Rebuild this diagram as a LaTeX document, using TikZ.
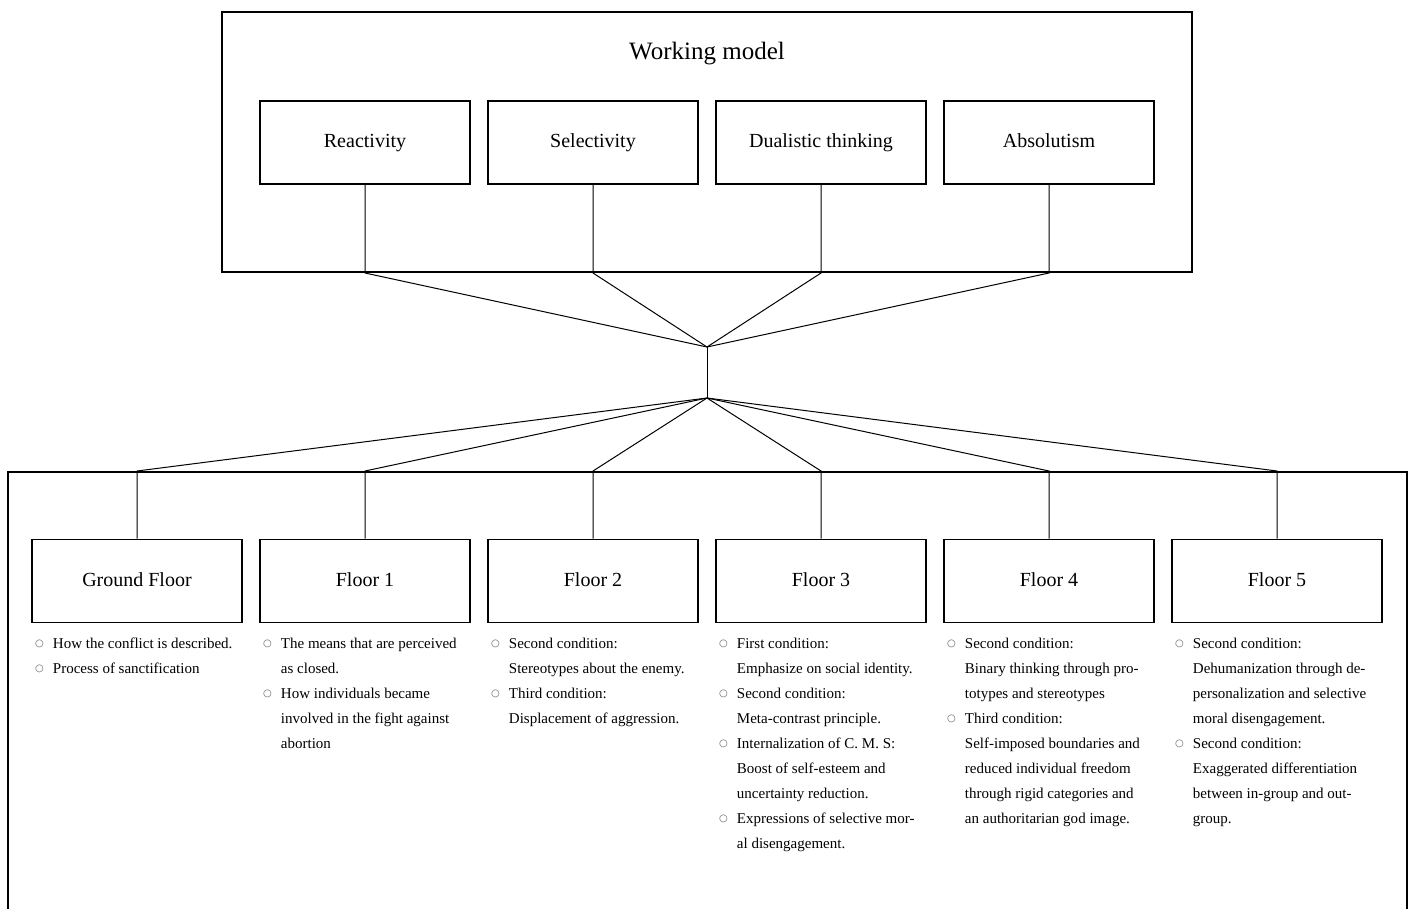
\documentclass[tikz,border=0pt]{standalone}
\usepackage{fontspec}
\setmainfont{Liberation Serif}
\newfontfamily\symfont{DejaVu Sans}
\usetikzlibrary{positioning}
\definecolor{bulgray}{RGB}{100, 100, 100}
\newcommand{\bul}{\raisebox{1.5pt}{\symfont\fontsize{10}{10}\selectfont\textcolor{bulgray}{○}}}

\begin{document}
\begin{tikzpicture}[x=1pt, y=-1pt,
  frame/.style={draw, line width=2pt, inner sep=0pt},
  box/.style={draw, line width=1.6pt, minimum width=210pt, minimum height=83pt,
              text height=14pt, text depth=4pt,
              font=\fontsize{20}{24}\selectfont},
  link/.style={line width=1pt},
  list/.style={anchor=north west, inner sep=0pt, font=\fontsize{15}{25}\selectfont}]
\useasboundingbox (0,0) rectangle (1415,908);

% Working model
\node[frame, minimum width=970pt, minimum height=260pt] (wm) at (707, 142) {};
\node[font=\fontsize{25}{30}\selectfont] (wmt) at (707, 54) {Working model};

\node[box] (re) at (365, 142.5) {Reactivity};
\node[box] (se) at (593, 142.5) {Selectivity};
\node[box] (du) at (821, 142.5) {Dualistic thinking};
\node[box] (ab) at (1049, 142.5) {Absolutism};

\coordinate (hub1) at (707, 347);
\coordinate (hub2) at (707, 398);

% Floors
\node[frame, minimum width=1399pt, minimum height=470pt] (fl) at (707.5, 707) {};

\node[box] (f0) at (137, 581) {Ground Floor};
\node[box] (f1) at (365, 581) {Floor 1};
\node[box] (f2) at (593, 581) {Floor 2};
\node[box] (f3) at (821, 581) {Floor 3};
\node[box] (f4) at (1049, 581) {Floor 4};
\node[box] (f5) at (1277, 581) {Floor 5};

\draw[link] (re.south) -- (re.south |- wm.south) -- (hub1);
\draw[link] (se.south) -- (se.south |- wm.south) -- (hub1);
\draw[link] (du.south) -- (du.south |- wm.south) -- (hub1);
\draw[link] (ab.south) -- (ab.south |- wm.south) -- (hub1);
\draw[link] (hub1) -- (hub2);
\draw[link] (hub2) -- (f0.north |- fl.north) -- (f0.north);
\draw[link] (hub2) -- (f1.north |- fl.north) -- (f1.north);
\draw[link] (hub2) -- (f2.north |- fl.north) -- (f2.north);
\draw[link] (hub2) -- (f3.north |- fl.north) -- (f3.north);
\draw[link] (hub2) -- (f4.north |- fl.north) -- (f4.north);
\draw[link] (hub2) -- (f5.north |- fl.north) -- (f5.north);

% Lists below the floors
\node[list] (l0) at (35, 630.5) {%
\begin{tabular}{@{}c@{\hspace{9pt}}l@{}}
\bul & How the conflict is described.\\
\bul & Process of sanctification
\end{tabular}};

\node[list] (l1) at (263, 630.5) {%
\begin{tabular}{@{}c@{\hspace{9pt}}l@{}}
\bul & The means that are perceived\\
 & as closed.\\
\bul & How individuals became\\
 & involved in the fight against\\
 & abortion
\end{tabular}};

\node[list] (l2) at (491, 630.5) {%
\begin{tabular}{@{}c@{\hspace{9pt}}l@{}}
\bul & Second condition:\\
 & Stereotypes about the enemy.\\
\bul & Third condition:\\
 & Displacement of aggression.
\end{tabular}};

\node[list] (l3) at (719, 630.5) {%
\begin{tabular}{@{}c@{\hspace{9pt}}l@{}}
\bul & First condition:\\
 & Emphasize on social identity.\\
\bul & Second condition:\\
 & Meta-contrast principle.\\
\bul & Internalization of C. M. S:\\
 & Boost of self-esteem and\\
 & uncertainty reduction.\\
\bul & Expressions of selective mor-\\
 & al disengagement.
\end{tabular}};

\node[list] (l4) at (947, 630.5) {%
\begin{tabular}{@{}c@{\hspace{9pt}}l@{}}
\bul & Second condition:\\
 & Binary thinking through pro-\\
 & totypes and stereotypes\\
\bul & Third condition:\\
 & Self-imposed boundaries and\\
 & reduced individual freedom\\
 & through rigid categories and\\
 & an authoritarian god image.
\end{tabular}};

\node[list] (l5) at (1175, 630.5) {%
\begin{tabular}{@{}c@{\hspace{9pt}}l@{}}
\bul & Second condition:\\
 & Dehumanization through de-\\
 & personalization and selective\\
 & moral disengagement.\\
\bul & Second condition:\\
 & Exaggerated differentiation\\
 & between in-group and out-\\
 & group.
\end{tabular}};

\end{tikzpicture}
\end{document}
